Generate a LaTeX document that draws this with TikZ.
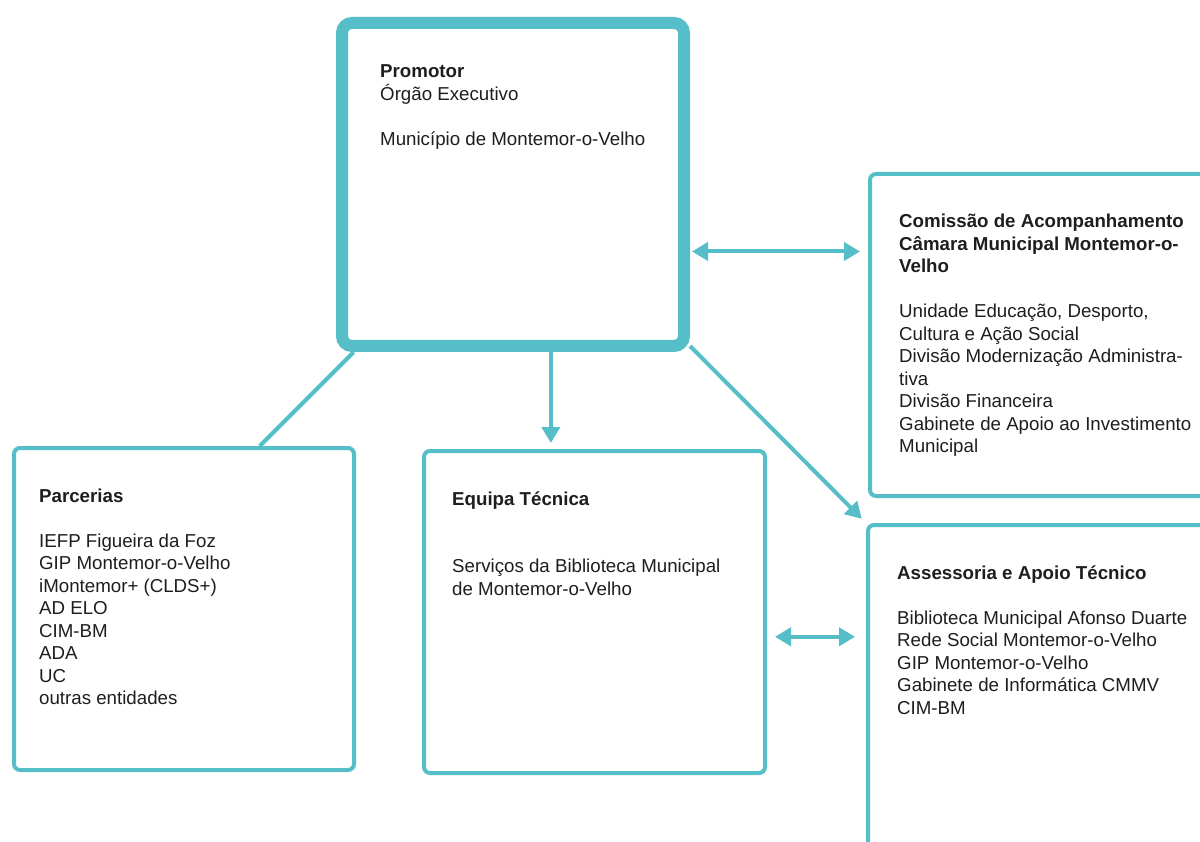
\documentclass[tikz,border=0pt]{standalone}
\usepackage{fontspec}
\setmainfont{Liberation Sans}
\usetikzlibrary{arrows.meta,calc}
\definecolor{tealA}{HTML}{55BEC8}
\definecolor{inkA}{HTML}{1E1E1E}
\newcommand{\boxtext}[1]{\parbox[t]{330pt}{\raggedright\fontsize{18.7}{22.5}\selectfont #1}}
\begin{document}
\begin{tikzpicture}[x=1pt,y=-1pt,
  boxthin/.style={draw=tealA,line width=4pt,rounded corners=6pt,fill=white,inner sep=0pt},
  boxthick/.style={draw=tealA,line width=12pt,rounded corners=10pt,fill=white,inner sep=0pt},
  txt/.style={anchor=base west,inner sep=0pt,text=inkA},
  conn/.style={draw=tealA,line width=4pt},
  tipone/.style={-{Triangle[length=16pt,width=18pt]}},
  tiptwo/.style={{Triangle[length=16pt,width=18pt]}-{Triangle[length=16pt,width=18pt]}}]
\useasboundingbox (0,0) rectangle (1200,842);
\clip (0,0) rectangle (1200,842);
\fill[white] (0,0) rectangle (1200,842);

% boxes
\node[boxthick, minimum width=342pt, minimum height=323pt] (prom) at (513,184.5) {};
\node[boxthin, minimum width=400pt, minimum height=322pt] (com) at (1070,335) {};
\node[boxthin, minimum width=400pt, minimum height=420pt] (asse) at (1068,735) {};
\node[boxthin, minimum width=340pt, minimum height=322pt] (parc) at (184,609) {};
\node[boxthin, minimum width=341pt, minimum height=322pt] (eq) at (594.5,612) {};

% texts
\node[txt] (promt) at (380,78) {\boxtext{\textbf{Promotor}\\Órgão Executivo\\[22.5pt]Município de Montemor-o-Velho}};
\node[txt] (comt) at (899,228) {\boxtext{\textbf{Comissão de Acompanhamento}\\\textbf{Câmara Municipal Montemor-o-}\\\textbf{Velho}\\[22.5pt]Unidade Educação, Desporto,\\Cultura e Ação Social\\Divisão Modernização Administra-\\tiva\\Divisão Financeira\\Gabinete de Apoio ao Investimento\\Municipal}};
\node[txt] (asset) at (897,579) {\boxtext{\textbf{Assessoria e Apoio Técnico}\\[22.5pt]Biblioteca Municipal Afonso Duarte\\Rede Social Montemor-o-Velho\\GIP Montemor-o-Velho\\Gabinete de Informática CMMV\\CIM-BM}};
\node[txt] (parct) at (39,502) {\boxtext{\textbf{Parcerias}\\[22.5pt]IEFP Figueira da Foz\\GIP Montemor-o-Velho\\iMontemor+ (CLDS+)\\AD ELO\\CIM-BM\\ADA\\UC\\outras entidades}};
\node[txt] (eqt) at (452,505) {\boxtext{\textbf{Equipa Técnica}\\[45pt]Serviços da Biblioteca Municipal\\de Montemor-o-Velho}};

% connectors
\coordinate (pR) at ($(prom.north east)!0.70!(prom.south east)$);
\draw[conn, tiptwo, shorten <=2pt, shorten >=8pt] (pR) -- (pR -| com.west);
\coordinate (pB) at ($(prom.south west)!0.607!(prom.south east)$);
\draw[conn, tipone, shorten >=6pt] (pB) -- (pB |- eq.north);
\coordinate (pS) at ($(prom.south west)!0.05!(prom.south east)$);
\coordinate (pL) at ($(parc.north west)!0.72!(parc.north east)$);
\draw[conn] (pS) -- (pL);
\coordinate (pE) at ($(prom.south east)+(0,-6)$);
\draw[conn, tipone, shorten >=6pt] (pE) -- (asse.north west);
\coordinate (eR) at ($(eq.north east)!0.576!(eq.south east)$);
\draw[conn, tiptwo, shorten <=8pt, shorten >=11pt] (eR) -- (eR -| asse.west);
\end{tikzpicture}
\end{document}
